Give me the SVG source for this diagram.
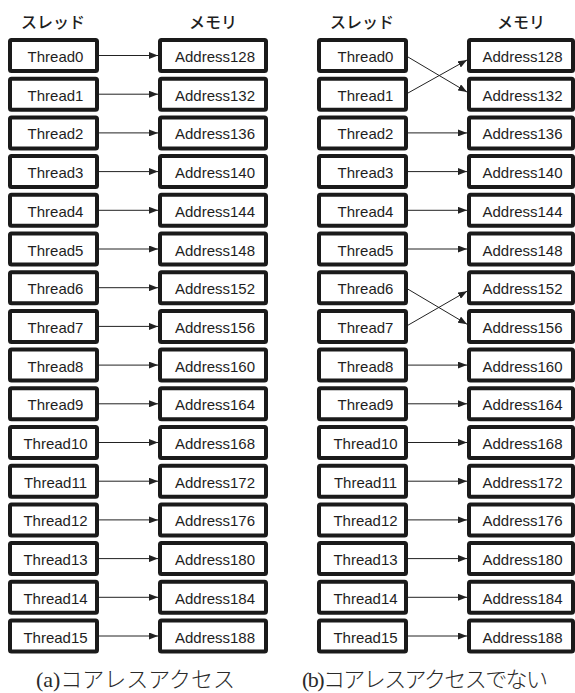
<svg xmlns="http://www.w3.org/2000/svg" width="575" height="693" viewBox="0 0 575 693">
<style>
.box{fill:#fff;stroke:#1a1a1a;stroke-width:4;}
.lbl{font-family:"Liberation Sans","Noto Sans CJK JP",sans-serif;font-size:15px;fill:#1e1e1e;text-anchor:middle;}
.hdr{font-family:"Noto Sans CJK JP",sans-serif;font-size:16px;font-weight:500;fill:#1e1e1e;text-anchor:middle;}
.cap{font-family:"Liberation Serif","Noto Sans CJK JP",serif;font-size:22px;font-weight:300;fill:#2a2a2a;}
.con{stroke:#222;stroke-width:1;fill:none;marker-end:url(#ah);}
</style>
<defs>
<marker id="ah" markerUnits="userSpaceOnUse" markerWidth="9" markerHeight="7" refX="9" refY="3.5" orient="auto">
<path d="M0,0 L9,3.5 L0,7 z" fill="#222"/>
</marker>
<g id="tb"><rect class="box" x="10" y="40" width="87" height="31" rx="1.5"/></g>
<g id="ab"><rect class="box" x="160" y="40" width="106" height="31" rx="1.5"/></g>
<g id="ab2"><rect class="box" x="469" y="40" width="104" height="31" rx="1.5"/></g>
</defs>

<g id="headers">
<text class="hdr" x="53" y="28">スレッド</text>
<text class="hdr" x="213" y="28">メモリ</text>
<text class="hdr" x="362" y="28">スレッド</text>
<text class="hdr" x="521" y="28">メモリ</text>
</g>

<g id="connectors">
<line class="con" x1="99" y1="55.5" x2="158" y2="55.5"/>
<line class="con" x1="99" y1="94.2" x2="158" y2="94.2"/>
<line class="con" x1="99" y1="132.9" x2="158" y2="132.9"/>
<line class="con" x1="99" y1="171.6" x2="158" y2="171.6"/>
<line class="con" x1="99" y1="210.3" x2="158" y2="210.3"/>
<line class="con" x1="99" y1="249" x2="158" y2="249"/>
<line class="con" x1="99" y1="287.7" x2="158" y2="287.7"/>
<line class="con" x1="99" y1="326.4" x2="158" y2="326.4"/>
<line class="con" x1="99" y1="365.1" x2="158" y2="365.1"/>
<line class="con" x1="99" y1="403.8" x2="158" y2="403.8"/>
<line class="con" x1="99" y1="442.5" x2="158" y2="442.5"/>
<line class="con" x1="99" y1="481.2" x2="158" y2="481.2"/>
<line class="con" x1="99" y1="519.9" x2="158" y2="519.9"/>
<line class="con" x1="99" y1="558.6" x2="158" y2="558.6"/>
<line class="con" x1="99" y1="597.3" x2="158" y2="597.3"/>
<line class="con" x1="99" y1="636" x2="158" y2="636"/>

<line class="con" x1="408" y1="57" x2="467" y2="92"/>
<line class="con" x1="408" y1="93" x2="467" y2="60"/>
<line class="con" x1="408" y1="132.9" x2="467" y2="132.9"/>
<line class="con" x1="408" y1="171.6" x2="467" y2="171.6"/>
<line class="con" x1="408" y1="210.3" x2="467" y2="210.3"/>
<line class="con" x1="408" y1="249" x2="467" y2="249"/>
<line class="con" x1="408" y1="289.2" x2="467" y2="324.2"/>
<line class="con" x1="408" y1="325.2" x2="467" y2="291.2"/>
<line class="con" x1="408" y1="365.1" x2="467" y2="365.1"/>
<line class="con" x1="408" y1="403.8" x2="467" y2="403.8"/>
<line class="con" x1="408" y1="442.5" x2="467" y2="442.5"/>
<line class="con" x1="408" y1="481.2" x2="467" y2="481.2"/>
<line class="con" x1="408" y1="519.9" x2="467" y2="519.9"/>
<line class="con" x1="408" y1="558.6" x2="467" y2="558.6"/>
<line class="con" x1="408" y1="597.3" x2="467" y2="597.3"/>
<line class="con" x1="408" y1="636" x2="467" y2="636"/>
</g>

<g id="a-t0" transform="translate(0,0)"><use href="#tb"/><text class="lbl" x="55.5" y="62">Thread0</text></g>
<g id="a-t1" transform="translate(0,38.7)"><use href="#tb"/><text class="lbl" x="55.5" y="62">Thread1</text></g>
<g id="a-t2" transform="translate(0,77.4)"><use href="#tb"/><text class="lbl" x="55.5" y="62">Thread2</text></g>
<g id="a-t3" transform="translate(0,116.1)"><use href="#tb"/><text class="lbl" x="55.5" y="62">Thread3</text></g>
<g id="a-t4" transform="translate(0,154.8)"><use href="#tb"/><text class="lbl" x="55.5" y="62">Thread4</text></g>
<g id="a-t5" transform="translate(0,193.5)"><use href="#tb"/><text class="lbl" x="55.5" y="62">Thread5</text></g>
<g id="a-t6" transform="translate(0,232.2)"><use href="#tb"/><text class="lbl" x="55.5" y="62">Thread6</text></g>
<g id="a-t7" transform="translate(0,270.9)"><use href="#tb"/><text class="lbl" x="55.5" y="62">Thread7</text></g>
<g id="a-t8" transform="translate(0,309.6)"><use href="#tb"/><text class="lbl" x="55.5" y="62">Thread8</text></g>
<g id="a-t9" transform="translate(0,348.3)"><use href="#tb"/><text class="lbl" x="55.5" y="62">Thread9</text></g>
<g id="a-t10" transform="translate(0,387)"><use href="#tb"/><text class="lbl" x="55.5" y="62">Thread10</text></g>
<g id="a-t11" transform="translate(0,425.7)"><use href="#tb"/><text class="lbl" x="55.5" y="62">Thread11</text></g>
<g id="a-t12" transform="translate(0,464.4)"><use href="#tb"/><text class="lbl" x="55.5" y="62">Thread12</text></g>
<g id="a-t13" transform="translate(0,503.1)"><use href="#tb"/><text class="lbl" x="55.5" y="62">Thread13</text></g>
<g id="a-t14" transform="translate(0,541.8)"><use href="#tb"/><text class="lbl" x="55.5" y="62">Thread14</text></g>
<g id="a-t15" transform="translate(0,580.5)"><use href="#tb"/><text class="lbl" x="55.5" y="62">Thread15</text></g>

<g id="a-m0" transform="translate(0,0)"><use href="#ab"/><text class="lbl" x="215" y="62">Address128</text></g>
<g id="a-m1" transform="translate(0,38.7)"><use href="#ab"/><text class="lbl" x="215" y="62">Address132</text></g>
<g id="a-m2" transform="translate(0,77.4)"><use href="#ab"/><text class="lbl" x="215" y="62">Address136</text></g>
<g id="a-m3" transform="translate(0,116.1)"><use href="#ab"/><text class="lbl" x="215" y="62">Address140</text></g>
<g id="a-m4" transform="translate(0,154.8)"><use href="#ab"/><text class="lbl" x="215" y="62">Address144</text></g>
<g id="a-m5" transform="translate(0,193.5)"><use href="#ab"/><text class="lbl" x="215" y="62">Address148</text></g>
<g id="a-m6" transform="translate(0,232.2)"><use href="#ab"/><text class="lbl" x="215" y="62">Address152</text></g>
<g id="a-m7" transform="translate(0,270.9)"><use href="#ab"/><text class="lbl" x="215" y="62">Address156</text></g>
<g id="a-m8" transform="translate(0,309.6)"><use href="#ab"/><text class="lbl" x="215" y="62">Address160</text></g>
<g id="a-m9" transform="translate(0,348.3)"><use href="#ab"/><text class="lbl" x="215" y="62">Address164</text></g>
<g id="a-m10" transform="translate(0,387)"><use href="#ab"/><text class="lbl" x="215" y="62">Address168</text></g>
<g id="a-m11" transform="translate(0,425.7)"><use href="#ab"/><text class="lbl" x="215" y="62">Address172</text></g>
<g id="a-m12" transform="translate(0,464.4)"><use href="#ab"/><text class="lbl" x="215" y="62">Address176</text></g>
<g id="a-m13" transform="translate(0,503.1)"><use href="#ab"/><text class="lbl" x="215" y="62">Address180</text></g>
<g id="a-m14" transform="translate(0,541.8)"><use href="#ab"/><text class="lbl" x="215" y="62">Address184</text></g>
<g id="a-m15" transform="translate(0,580.5)"><use href="#ab"/><text class="lbl" x="215" y="62">Address188</text></g>

<g id="b-t0" transform="translate(309,0)"><use href="#tb"/><text class="lbl" x="56.5" y="62">Thread0</text></g>
<g id="b-t1" transform="translate(309,38.7)"><use href="#tb"/><text class="lbl" x="56.5" y="62">Thread1</text></g>
<g id="b-t2" transform="translate(309,77.4)"><use href="#tb"/><text class="lbl" x="56.5" y="62">Thread2</text></g>
<g id="b-t3" transform="translate(309,116.1)"><use href="#tb"/><text class="lbl" x="56.5" y="62">Thread3</text></g>
<g id="b-t4" transform="translate(309,154.8)"><use href="#tb"/><text class="lbl" x="56.5" y="62">Thread4</text></g>
<g id="b-t5" transform="translate(309,193.5)"><use href="#tb"/><text class="lbl" x="56.5" y="62">Thread5</text></g>
<g id="b-t6" transform="translate(309,232.2)"><use href="#tb"/><text class="lbl" x="56.5" y="62">Thread6</text></g>
<g id="b-t7" transform="translate(309,270.9)"><use href="#tb"/><text class="lbl" x="56.5" y="62">Thread7</text></g>
<g id="b-t8" transform="translate(309,309.6)"><use href="#tb"/><text class="lbl" x="56.5" y="62">Thread8</text></g>
<g id="b-t9" transform="translate(309,348.3)"><use href="#tb"/><text class="lbl" x="56.5" y="62">Thread9</text></g>
<g id="b-t10" transform="translate(309,387)"><use href="#tb"/><text class="lbl" x="56.5" y="62">Thread10</text></g>
<g id="b-t11" transform="translate(309,425.7)"><use href="#tb"/><text class="lbl" x="56.5" y="62">Thread11</text></g>
<g id="b-t12" transform="translate(309,464.4)"><use href="#tb"/><text class="lbl" x="56.5" y="62">Thread12</text></g>
<g id="b-t13" transform="translate(309,503.1)"><use href="#tb"/><text class="lbl" x="56.5" y="62">Thread13</text></g>
<g id="b-t14" transform="translate(309,541.8)"><use href="#tb"/><text class="lbl" x="56.5" y="62">Thread14</text></g>
<g id="b-t15" transform="translate(309,580.5)"><use href="#tb"/><text class="lbl" x="56.5" y="62">Thread15</text></g>

<g id="b-m0" transform="translate(0,0)"><use href="#ab2"/><text class="lbl" x="522.5" y="62">Address128</text></g>
<g id="b-m1" transform="translate(0,38.7)"><use href="#ab2"/><text class="lbl" x="522.5" y="62">Address132</text></g>
<g id="b-m2" transform="translate(0,77.4)"><use href="#ab2"/><text class="lbl" x="522.5" y="62">Address136</text></g>
<g id="b-m3" transform="translate(0,116.1)"><use href="#ab2"/><text class="lbl" x="522.5" y="62">Address140</text></g>
<g id="b-m4" transform="translate(0,154.8)"><use href="#ab2"/><text class="lbl" x="522.5" y="62">Address144</text></g>
<g id="b-m5" transform="translate(0,193.5)"><use href="#ab2"/><text class="lbl" x="522.5" y="62">Address148</text></g>
<g id="b-m6" transform="translate(0,232.2)"><use href="#ab2"/><text class="lbl" x="522.5" y="62">Address152</text></g>
<g id="b-m7" transform="translate(0,270.9)"><use href="#ab2"/><text class="lbl" x="522.5" y="62">Address156</text></g>
<g id="b-m8" transform="translate(0,309.6)"><use href="#ab2"/><text class="lbl" x="522.5" y="62">Address160</text></g>
<g id="b-m9" transform="translate(0,348.3)"><use href="#ab2"/><text class="lbl" x="522.5" y="62">Address164</text></g>
<g id="b-m10" transform="translate(0,387)"><use href="#ab2"/><text class="lbl" x="522.5" y="62">Address168</text></g>
<g id="b-m11" transform="translate(0,425.7)"><use href="#ab2"/><text class="lbl" x="522.5" y="62">Address172</text></g>
<g id="b-m12" transform="translate(0,464.4)"><use href="#ab2"/><text class="lbl" x="522.5" y="62">Address176</text></g>
<g id="b-m13" transform="translate(0,503.1)"><use href="#ab2"/><text class="lbl" x="522.5" y="62">Address180</text></g>
<g id="b-m14" transform="translate(0,541.8)"><use href="#ab2"/><text class="lbl" x="522.5" y="62">Address184</text></g>
<g id="b-m15" transform="translate(0,580.5)"><use href="#ab2"/><text class="lbl" x="522.5" y="62">Address188</text></g>

<g id="captions">
<text class="cap" x="36" y="687" textLength="199" lengthAdjust="spacing">(a)コアレスアクセス</text>
<text class="cap" x="302" y="687" textLength="246" lengthAdjust="spacing">(b)コアレスアクセスでない</text>
</g>
</svg>
